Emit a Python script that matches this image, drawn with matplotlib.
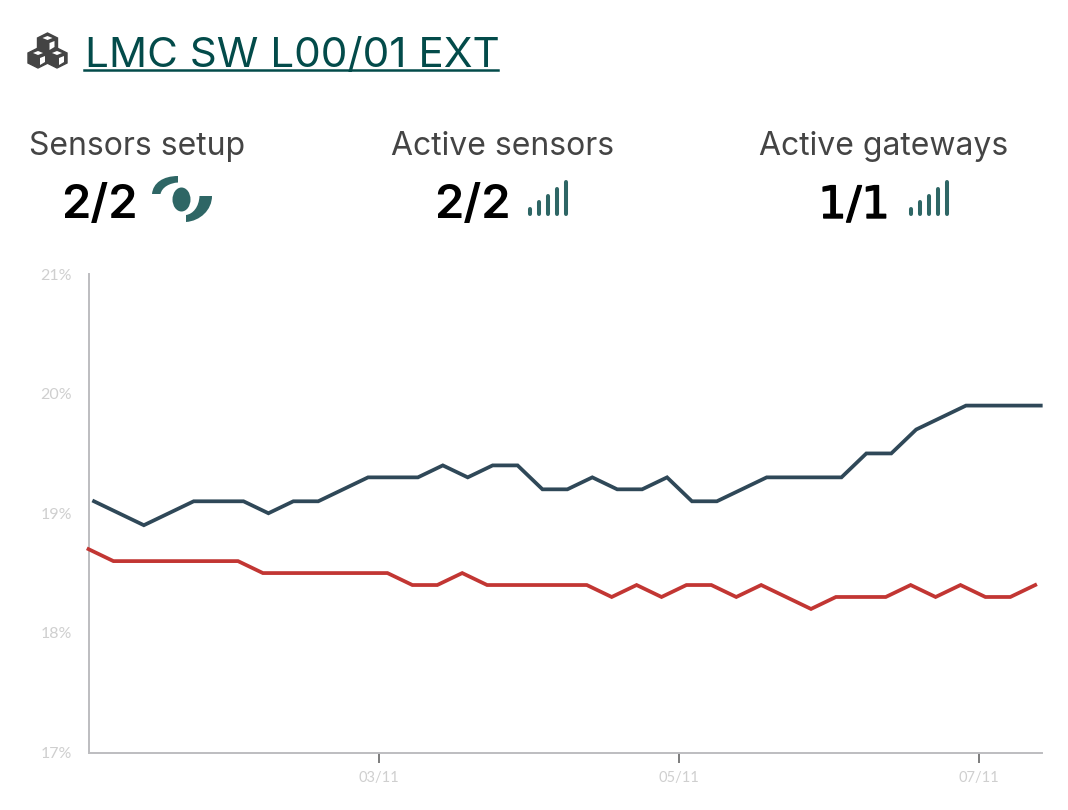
import matplotlib
matplotlib.use('Agg')
from matplotlib import pyplot as plt
from matplotlib import patheffects
from matplotlib.lines import Line2D
from matplotlib.patches import Ellipse, PathPatch, Polygon
from matplotlib.path import Path
import pandas as pd

W, H = 1068, 810

blue_values = [19.1, 19.0, 18.9, 19.0, 19.1, 19.1, 19.1, 19.0, 19.1, 19.1,
               19.2, 19.3, 19.3, 19.3, 19.4, 19.3, 19.4, 19.4, 19.2, 19.2,
               19.3, 19.2, 19.2, 19.3, 19.1, 19.1, 19.2, 19.3, 19.3, 19.3,
               19.3, 19.5, 19.5, 19.7, 19.8, 19.9, 19.9, 19.9, 19.9]
red_values = [18.7, 18.6, 18.6, 18.6, 18.6, 18.6, 18.6, 18.5, 18.5, 18.5,
              18.5, 18.5, 18.5, 18.4, 18.4, 18.5, 18.4, 18.4, 18.4, 18.4,
              18.4, 18.3, 18.4, 18.3, 18.4, 18.4, 18.3, 18.4, 18.3, 18.2,
              18.3, 18.3, 18.3, 18.4, 18.3, 18.4, 18.3, 18.3, 18.4]
blue_start = '2021-11-01 02:31'
red_start = '2021-11-01 01:38'
x_start = '2021-11-01 01:38'
x_end = '2021-11-07 10:05'
date_ticks = ['2021-11-03', '2021-11-05', '2021-11-07']
pct_ticks = [17, 18, 19, 20, 21]

stat_titles = ['Sensors setup', 'Active sensors', 'Active gateways']
stat_values = ['2/2', '2/2', '1/1']
signal_heights = [4.5, 11.5, 18, 24.5, 31.5]

TEAL = '#2e6665'
plt.rcParams['font.family'] = ['Inter', 'DejaVu Sans']

fig = plt.figure(figsize=(W / 100, H / 100), dpi=100)

ax = fig.add_axes([88.5 / W, (H - 752.5) / H, (1042 - 88.5) / W, (752.5 - 274) / H])
blue_x = pd.date_range(blue_start, periods=len(blue_values), freq='14340s')
red_x = pd.date_range(red_start, periods=len(red_values), freq='14340s')
ax.plot(blue_x, blue_values, color='#2f4858', lw=2.7, solid_joinstyle='miter', clip_on=False, zorder=3)
ax.plot(red_x, red_values, color='#c23633', lw=2.7, solid_joinstyle='miter', clip_on=False, zorder=3)
ax.set_xlim(pd.Timestamp(x_start), pd.Timestamp(x_end))
ax.set_ylim(17, 21)
ax.set_yticks(pct_ticks)
ax.set_yticklabels([str(p) + '%' for p in pct_ticks], family=['Lato', 'DejaVu Sans'])
ax.set_xticks(pd.to_datetime(date_ticks))
ax.set_xticklabels([d[8:] + '/' + d[5:7] for d in date_ticks], family=['Lato', 'DejaVu Sans'])
ax.tick_params(axis='y', length=0, pad=12, labelcolor='#cfcfcf', labelsize=11.5)
ax.tick_params(axis='x', length=7, width=1.2, color='#666666', pad=6,
               labelcolor='#cfcfcf', labelsize=10.5)
for side in ['top', 'right']:
    ax.spines[side].set_visible(False)
for side in ['left', 'bottom']:
    ax.spines[side].set_color('#bdbdc0')
    ax.spines[side].set_linewidth(1.4)

# header and stats, drawn in pixel coordinates
ui = fig.add_axes([0, 0, 1, 1])
ui.set_xlim(0, W)
ui.set_ylim(H, 0)
ui.axis('off')
ui.patch.set_alpha(0)

ui.text(85, 66.5, 'LMC SW L00/01 EXT', fontsize=30.4, color='#034b4a', va='baseline', ha='left')
ui.add_line(Line2D([84, 498], [69.5, 69.5], color='#034b4a', lw=1.8))

# stacked cubes icon
GREY = '#444444'
for cx, cy in [(47.5, 43), (38, 58), (57, 58)]:
    ui.add_patch(Polygon([(cx - 10, cy - 5), (cx, cy - 10), (cx + 10, cy - 5), (cx + 10, cy + 5),
                          (cx, cy + 10), (cx - 10, cy + 5)], fc=GREY, ec=GREY, lw=1))
    ui.add_patch(Polygon([(cx - 5, cy - 5), (cx, cy - 7), (cx + 5, cy - 5), (cx, cy - 3)],
                         fc='white', ec='none'))
    ui.add_patch(Polygon([(cx + 2, cy), (cx + 7, cy - 2), (cx + 7, cy + 4), (cx + 2, cy + 7)],
                         fc='white', ec='none'))

title_x = [137, 503, 884]
value_x = [99, 472, 854]
for tx, vx, title, value in zip(title_x, value_x, stat_titles, stat_values):
    ui.text(tx, 155, title, fontsize=23, color='#444444', ha='center', va='baseline')
    if value == '1/1':
        # the reference has a footed, heavy 1
        ui.text(vx, 218, value, fontsize=32, color='black', ha='center', va='baseline',
                family='DejaVu Sans', fontweight='normal',
                path_effects=[patheffects.withStroke(linewidth=1, foreground='black')])
    else:
        ui.text(vx, 218, value, fontsize=34, color='black', ha='center', va='baseline', fontweight='semibold')

# sensor setup icon
CURVE = [Path.MOVETO, Path.CURVE4, Path.CURVE4, Path.CURVE4, Path.LINETO,
         Path.CURVE4, Path.CURVE4, Path.CURVE4, Path.CLOSEPOLY]
upper_arc = [(152, 194), (153, 183), (163, 176), (178, 176), (178, 182.5),
             (170, 183), (162, 187), (160.5, 194), (152, 194)]
lower_arc = [(212, 196), (212, 210), (200, 221), (186, 222), (186, 215),
             (193, 214), (199, 207), (199.5, 196), (212, 196)]
ui.add_patch(Ellipse((181.5, 199.5), 18, 24, fc=TEAL, ec='none'))
ui.add_patch(PathPatch(Path(upper_arc, CURVE), fc=TEAL, ec='none'))
ui.add_patch(PathPatch(Path(lower_arc, CURVE), fc=TEAL, ec='none'))

# signal bars
for left in [529.5, 911]:
    for i, bar_h in enumerate(signal_heights):
        bx = left + i * 9
        ui.add_line(Line2D([bx, bx], [213.5, 213.5 - bar_h], color=TEAL, lw=2.9, solid_capstyle='round'))

fig.savefig('out.png', dpi=100)
